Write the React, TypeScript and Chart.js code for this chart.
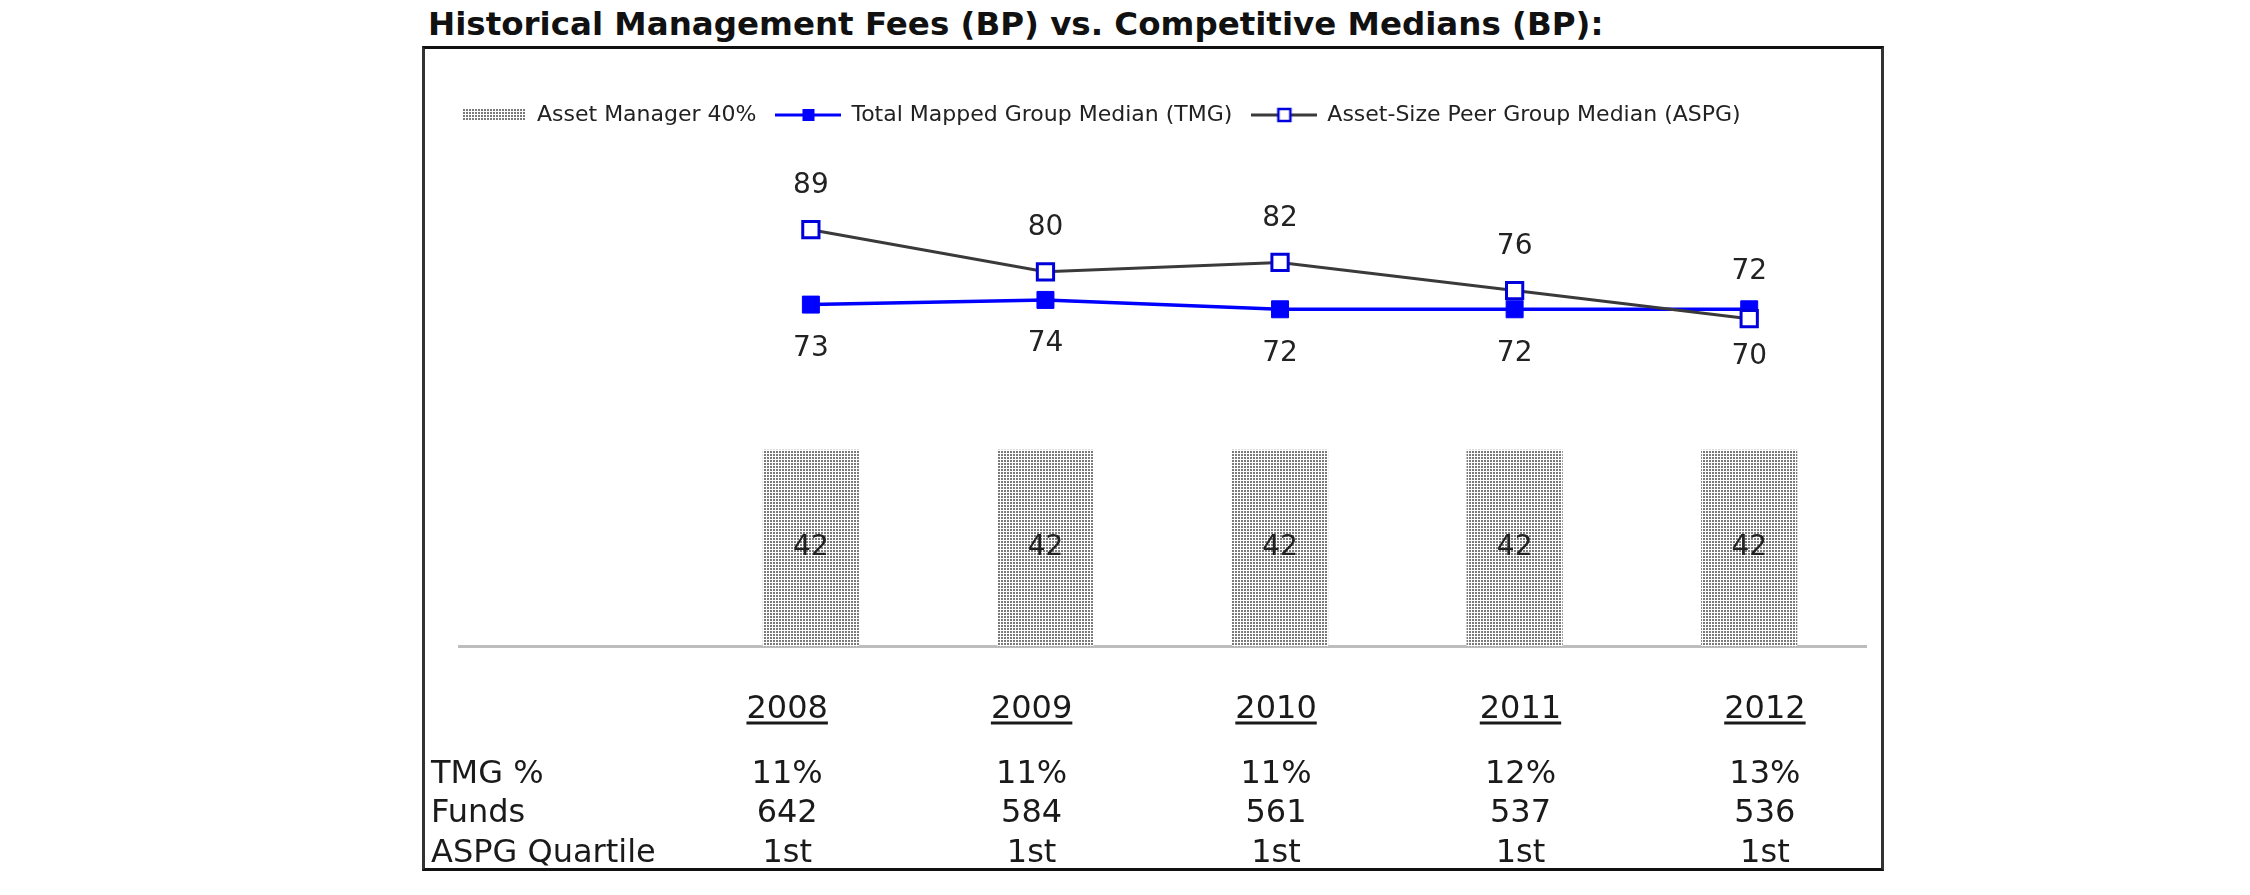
import React, { useEffect, useRef } from 'react';
import { Chart, registerables } from 'chart.js';

Chart.register(...registerables);

// ---- data ----
const chartTitle = 'Historical Management Fees (BP) vs. Competitive Medians (BP):';
const years = ['2008', '2009', '2010', '2011', '2012'];
const seriesNames = [
  'Asset Manager 40%',
  'Total Mapped Group Median (TMG)',
  'Asset-Size Peer Group Median (ASPG)',
];
const assetManager40 = [42, 42, 42, 42, 42];
const tmgMedian = [73, 74, 72, 72, 72];
const aspgMedian = [89, 80, 82, 76, 70];
const rowLabels = ['TMG %', 'Funds', 'ASPG Quartile'];
const tmgPct = ['11%', '11%', '11%', '12%', '13%'];
const funds = ['642', '584', '561', '537', '536'];
const aspgQuartile = ['1st', '1st', '1st', '1st', '1st'];

const FONT = "'DejaVu Sans', 'Verdana', sans-serif";

function makeDotTile(): HTMLCanvasElement {
  const c = document.createElement('canvas');
  c.width = 3;
  c.height = 3;
  const g = c.getContext('2d')!;
  g.fillStyle = '#ffffff';
  g.fillRect(0, 0, 3, 3);
  g.fillStyle = '#7a7a7a';
  g.fillRect(0, 0, 2, 2);
  return c;
}

function barSwatch(pattern: CanvasPattern | string): HTMLCanvasElement {
  const c = document.createElement('canvas');
  c.width = 62;
  c.height = 12;
  const g = c.getContext('2d')!;
  g.fillStyle = pattern as any;
  g.fillRect(0, 0, 62, 12);
  return c;
}

function lineSwatch(lineColor: string, fill: string, border: string, borderW: number): HTMLCanvasElement {
  const c = document.createElement('canvas');
  c.width = 66;
  c.height = 22;
  const g = c.getContext('2d')!;
  g.strokeStyle = lineColor;
  g.lineWidth = 3;
  g.beginPath();
  g.moveTo(0, 11);
  g.lineTo(66, 11);
  g.stroke();
  const s = 12;
  g.fillStyle = fill;
  g.fillRect(33 - s / 2, 11 - s / 2, s, s);
  if (borderW > 0) {
    g.strokeStyle = border;
    g.lineWidth = borderW;
    g.strokeRect(33 - s / 2, 11 - s / 2, s, s);
  }
  return c;
}

const valueLabels = {
  id: 'valueLabels',
  afterDatasetsDraw(chart: any) {
    const ctx = chart.ctx;
    ctx.save();
    ctx.font = `28px ${FONT}`;
    ctx.fillStyle = '#222';
    ctx.textAlign = 'center';
    ctx.textBaseline = 'middle';
    const barData = chart.data.datasets[0].data;
    chart.getDatasetMeta(0).data.forEach((el: any, i: number) => {
      const v = barData[i];
      if (v == null) return;
      const p = el.getProps(['x', 'y', 'base'], true);
      ctx.fillText(String(v), p.x, (p.y + p.base) / 2);
    });
    [1, 2].forEach((di) => {
      const own = chart.data.datasets[di].data;
      const other = chart.data.datasets[di === 1 ? 2 : 1].data;
      chart.getDatasetMeta(di).data.forEach((pt: any, i: number) => {
        const v = own[i];
        if (v == null) return;
        const above = v > other[i] || (v === other[i] && di === 2);
        const gap = Math.abs(v - other[i]) < 4 ? 38 : 44;
        ctx.fillText(String(v), pt.x, pt.y + (above ? -gap : gap));
      });
    });
    ctx.restore();
  },
};

const tablePlugin = {
  id: 'dataTable',
  afterDraw(chart: any) {
    const { ctx, chartArea } = chart;
    const xs = chart.scales.x;
    const b = chartArea.bottom;
    // table columns are a little wider-spaced than the chart categories
    const mid = xs.getPixelForValue(3) - 4;
    const colX = (i: number) => mid + (xs.getPixelForValue(i + 1) - mid - 4) * 1.042;
    ctx.save();
    ctx.font = `32px ${FONT}`;
    ctx.fillStyle = '#1a1a1a';
    ctx.textBaseline = 'alphabetic';
    years.forEach((yr, i) => {
      const x = colX(i);
      ctx.textAlign = 'center';
      ctx.fillText(yr, x, b + 71.5);
      const w = ctx.measureText(yr).width;
      ctx.fillRect(x - w / 2, b + 75, w, 3);
    });
    const rows = [tmgPct, funds, aspgQuartile];
    const offs = [136.5, 175.5, 215.5];
    rows.forEach((row, r) => {
      ctx.textAlign = 'left';
      ctx.fillText(rowLabels[r], chartArea.left - 28, b + offs[r]);
      ctx.textAlign = 'center';
      row.forEach((v, i) => ctx.fillText(String(v), colX(i), b + offs[r]));
    });
    ctx.restore();
  },
};

export default function App() {
  const ref = useRef<HTMLCanvasElement>(null);

  useEffect(() => {
    const canvas = ref.current!;
    const ctx = canvas.getContext('2d')!;
    const pattern = ctx.createPattern(makeDotTile(), 'repeat')!;
    const swatches = [
      barSwatch(pattern),
      lineSwatch('#0000ff', '#0000ff', '#0000ff', 0),
      lineSwatch('#3a3a3a', '#ffffff', '#0000dd', 2.5),
    ];
    Chart.defaults.font.family = FONT;
    Chart.defaults.color = '#222';

    const chart = new Chart(canvas, {
      type: 'bar',
      data: {
        labels: ['', ...years],
        datasets: [
          {
            type: 'bar',
            label: seriesNames[0],
            data: [null, ...assetManager40],
            backgroundColor: pattern as any,
            borderWidth: 0,
            barPercentage: 0.41,
            categoryPercentage: 1,
            order: 3,
          },
          {
            type: 'line',
            label: seriesNames[1],
            data: [null, ...tmgMedian],
            borderColor: '#0000ff',
            borderWidth: 3.5,
            tension: 0,
            pointStyle: 'rect',
            pointRadius: 12,
            pointBackgroundColor: '#0000ff',
            pointBorderColor: '#0000ff',
            pointBorderWidth: 1,
            order: 2,
          },
          {
            type: 'line',
            label: seriesNames[2],
            data: [null, ...aspgMedian],
            borderColor: '#3a3a3a',
            borderWidth: 3,
            tension: 0,
            pointStyle: 'rect',
            pointRadius: 11.5,
            pointBackgroundColor: '#ffffff',
            pointBorderColor: '#0000dd',
            pointBorderWidth: 3,
            order: 1,
          },
        ] as any,
      },
      options: {
        animation: false,
        responsive: false,
        layout: { padding: { top: 35, left: 17, right: 4, bottom: 0 } },
        scales: {
          x: {
            display: true,
            grid: { display: false },
            ticks: { display: false },
            border: { display: true, color: '#bdbdbd', width: 3 },
            afterFit: (s: any) => {
              s.height = 221.5;
            },
          },
          y: {
            display: true,
            min: 0,
            max: 109,
            grid: { display: false },
            ticks: { display: false },
            border: { display: false },
            afterFit: (s: any) => {
              s.width = 17;
            },
          },
        },
        plugins: {
          tooltip: { enabled: false },
          legend: {
            display: true,
            position: 'top',
            align: 'start',
            labels: {
              usePointStyle: true,
              pointStyleWidth: 64,
              padding: 20,
              color: '#222',
              font: { size: 22, family: FONT },
              generateLabels: (c: any) =>
                c.data.datasets.map((ds: any, i: number) => ({
                  text: ds.label,
                  pointStyle: swatches[i],
                  fillStyle: 'transparent',
                  strokeStyle: 'transparent',
                  lineWidth: 0,
                  hidden: false,
                  datasetIndex: i,
                  fontColor: '#222',
                })),
            },
          },
        },
      } as any,
      plugins: [valueLabels, tablePlugin],
    });
    return () => chart.destroy();
  }, []);

  return (
    <div style={{ position: 'absolute', left: 0, top: 0, width: 2250, height: 895, overflow: 'hidden', background: '#fff' }}>
      <div
        style={{
          position: 'absolute',
          left: 428,
          top: 5,
          font: `bold 32.5px ${FONT}`,
          color: '#111',
          whiteSpace: 'nowrap',
          lineHeight: 'normal',
        }}
      >
        {chartTitle}
      </div>
      <div
        style={{
          position: 'absolute',
          left: 422,
          top: 46,
          width: 1456,
          height: 819,
          border: '3px solid #333',
          borderTopColor: '#111',
          borderBottomColor: '#111',
          background: '#fff',
        }}
      >
        <canvas ref={ref} width={1456} height={819} style={{ display: 'block', width: 1456, height: 819 }} />
      </div>
    </div>
  );
}
